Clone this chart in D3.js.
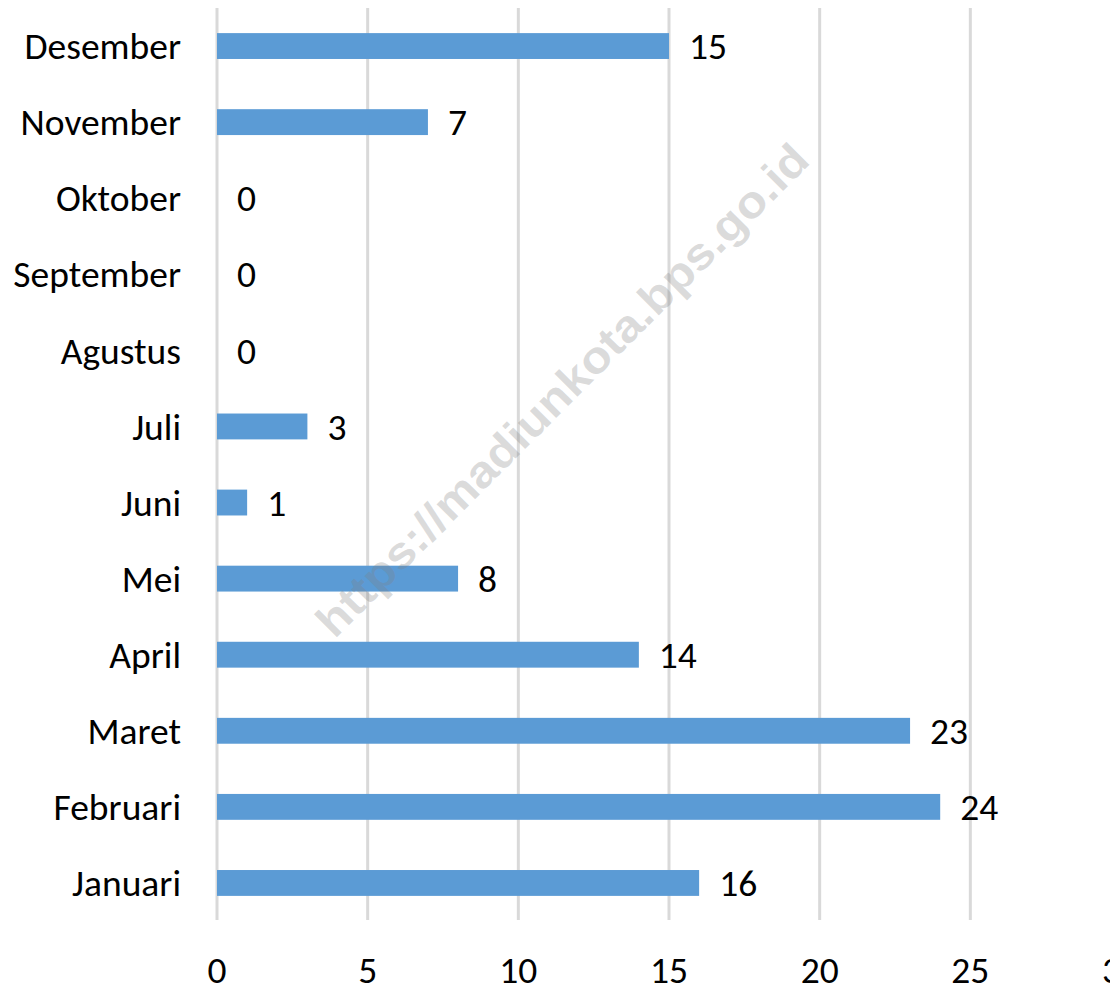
<!doctype html>
<html>
  <head>
    <meta charset="utf-8">
    <script src="https://cdn.jsdelivr.net/npm/d3@7/dist/d3.min.js"></script>
    <style>
      body { margin: 0; background: #fff; }
      svg text { font-family: Carlito, Lato, "Open Sans", sans-serif; }
    </style>
  </head>
  <body>
    <div id="chart"></div>
    <script>
      // months top to bottom, as drawn
      const months = ["Desember", "November", "Oktober", "September", "Agustus", "Juli",
                      "Juni", "Mei", "April", "Maret", "Februari", "Januari"];
      const counts = [15, 7, 0, 0, 0, 3, 1, 8, 14, 23, 24, 16];
      const xTicks = [0, 5, 10, 15, 20, 25, 30];
      const watermark = "https://madiunkota.bps.go.id";

      const width = 1110, height = 987;
      const fontSize = 37.5;

      const svg = d3.select("#chart").append("svg")
        .attr("width", width)
        .attr("height", height);

      const x = d3.scaleLinear()
        .domain([0, 30])
        .range([217, 1121]);

      const y = d3.scaleBand()
        .domain(months)
        .range([8, 921])
        .paddingInner(0.66)
        .paddingOuter(0.33);

      // gridlines
      svg.append("g")
        .selectAll("line")
        .data(xTicks)
        .join("line")
          .attr("x1", d => x(d))
          .attr("x2", d => x(d))
          .attr("y1", 8)
          .attr("y2", 920)
          .attr("stroke", "#d9d9d9")
          .attr("stroke-width", 3);

      // bars
      svg.append("g")
        .selectAll("rect")
        .data(months)
        .join("rect")
          .attr("x", x(0))
          .attr("y", m => y(m))
          .attr("width", (m, i) => x(counts[i]) - x(0))
          .attr("height", y.bandwidth())
          .attr("fill", "#5b9bd5");

      // value labels
      svg.append("g")
        .selectAll("text")
        .data(months)
        .join("text")
          .attr("x", (m, i) => x(counts[i]) + 20)
          .attr("y", m => y(m) + y.bandwidth() / 2)
          .attr("dy", "0.35em")
          .attr("font-size", fontSize)
          .attr("fill", "#000")
          .text((m, i) => counts[i]);

      // category labels
      svg.append("g")
        .selectAll("text")
        .data(months)
        .join("text")
          .attr("x", 181)
          .attr("y", m => y(m) + y.bandwidth() / 2)
          .attr("dy", "0.35em")
          .attr("text-anchor", "end")
          .attr("font-size", fontSize)
          .attr("fill", "#000")
          .text(m => m);

      // x tick labels
      svg.append("g")
        .selectAll("text")
        .data(xTicks)
        .join("text")
          .attr("x", d => x(d))
          .attr("y", 983)
          .attr("text-anchor", "middle")
          .attr("font-size", fontSize)
          .attr("fill", "#000")
          .text(d => d);

      // watermark
      svg.append("text")
        .attr("transform", "translate(562,390) rotate(-45)")
        .attr("text-anchor", "middle")
        .attr("dy", "0.35em")
        .attr("font-weight", "bold")
        .attr("font-size", 45)
        .attr("textLength", 675)
        .attr("lengthAdjust", "spacingAndGlyphs")
        .attr("fill", "#808080")
        .attr("fill-opacity", 0.28)
        .style("font-family", "'Liberation Sans', Arial, sans-serif")
        .text(watermark);
    </script>
  </body>
</html>
